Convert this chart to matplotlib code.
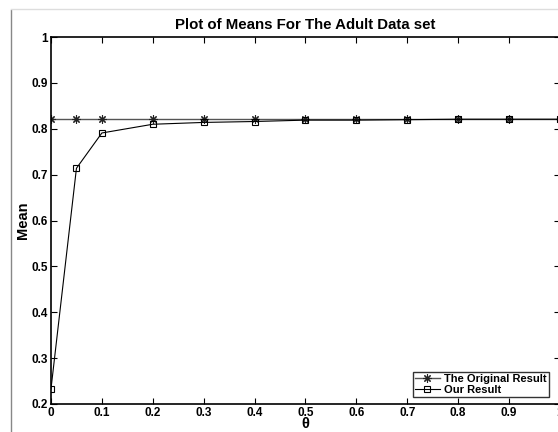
import matplotlib
matplotlib.use("Agg")
import matplotlib.pyplot as plt
from matplotlib.lines import Line2D

# Valores
theta = [0, 0.05, 0.1, 0.2, 0.3, 0.4, 0.5, 0.6, 0.7, 0.8, 0.9, 1.0]
original = [0.822, 0.822, 0.822, 0.822, 0.822, 0.822, 0.822, 0.822, 0.822, 0.822, 0.822, 0.822]
nosso = [0.233, 0.714, 0.791, 0.810, 0.814, 0.816, 0.819, 0.819, 0.820, 0.821, 0.821, 0.821]

xticks = [0, 0.1, 0.2, 0.3, 0.4, 0.5, 0.6, 0.7, 0.8, 0.9, 1]
xticklabels = ["0", "0.1", "0.2", "0.3", "0.4", "0.5", "0.6", "0.7", "0.8", "0.9", "1"]
yticks = [0.2, 0.3, 0.4, 0.5, 0.6, 0.7, 0.8, 0.9, 1]
yticklabels = ["0.2", "0.3", "0.4", "0.5", "0.6", "0.7", "0.8", "0.9", "1"]

plt.rcParams["font.family"] = ["Liberation Sans", "DejaVu Sans"]
plt.rcParams["font.weight"] = "bold"

fig = plt.figure(figsize=(5.58, 4.32), dpi=100)
ax = fig.add_axes([0.0914, 0.065, 0.912, 0.849])

# asterisco estilo MATLAB (+ e x sobrepostos)
ax.plot(theta, original, color="#555555", lw=1.0, marker=(8, 2, 0), ms=6,
        mec="#222222", mew=0.8, label="The Original Result")
ax.plot(theta, nosso, color="black", lw=0.8, marker="s", ms=5,
        mfc="none", mec="black", mew=0.8, label="Our Result")

ax.set_xlim(0, 1)
ax.set_ylim(0.2, 1)
ax.set_xticks(xticks)
ax.set_xticklabels(xticklabels, fontsize=8.5, fontweight="bold")
ax.set_yticks(yticks)
ax.set_yticklabels(yticklabels, fontsize=8.5, fontweight="bold")
ax.tick_params(direction="in", top=True, right=True, length=4, width=0.8, pad=2)
for s in ax.spines.values():
    s.set_linewidth(1.2)

ax.set_title("Plot of Means For The Adult Data set", fontsize=10.8, fontweight="bold", pad=6)
ax.set_ylabel("Mean", fontsize=10.5, fontweight="bold", labelpad=1)
ax.set_xlabel("θ", fontsize=10.5, fontweight="bold", va="center")
ax.xaxis.set_label_coords(0.5, -0.056)

leg = ax.legend(loc="lower right", bbox_to_anchor=(0.985, 0.01), fontsize=8,
                frameon=True, fancybox=False, borderpad=0.2, labelspacing=0.05,
                handlelength=2.2, handletextpad=0.4, borderaxespad=0.3)
leg.get_frame().set_edgecolor("black")
leg.get_frame().set_linewidth(1.0)
for t in leg.get_texts():
    t.set_fontweight("bold")

# Moldura cinzenta da janela original
fig.add_artist(Line2D([11 / 558, 11 / 558], [0, 1 - 10 / 432], transform=fig.transFigure,
                      color="#888888", lw=1.0))
fig.add_artist(Line2D([11 / 558, 1], [1 - 9 / 432, 1 - 9 / 432], transform=fig.transFigure,
                      color="#dddddd", lw=1.0))

fig.savefig("out.png", dpi=100)
